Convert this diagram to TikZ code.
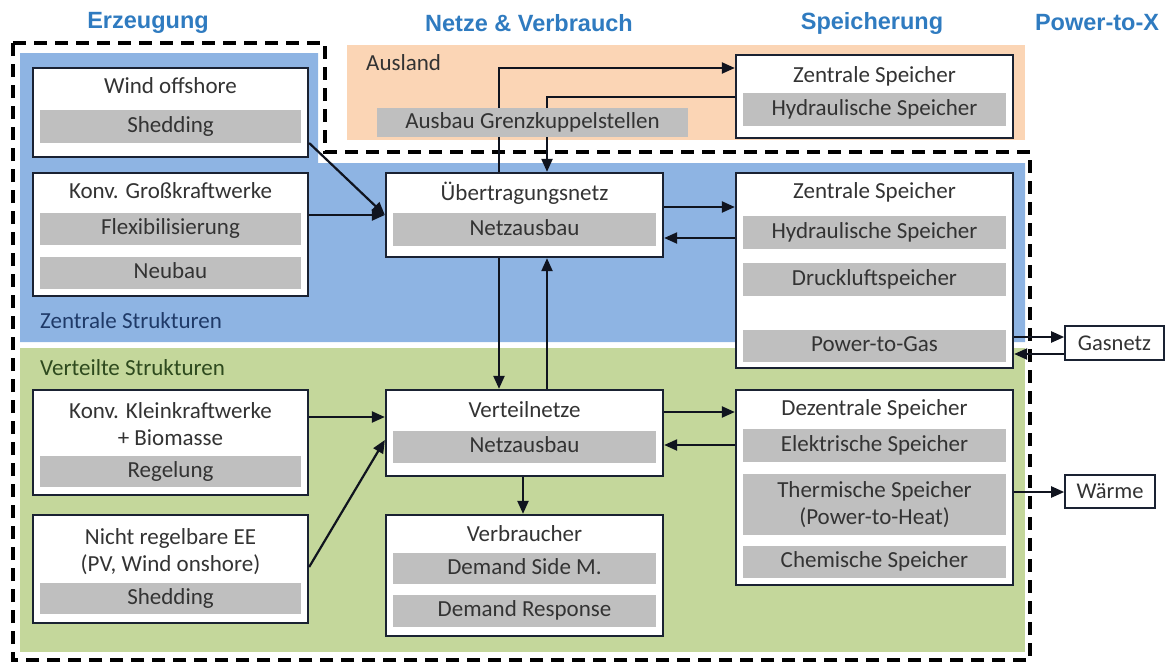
\documentclass[tikz,border=0pt]{standalone}
\usepackage{fontspec}
\setmainfont{Carlito}
\newfontfamily\hdfont{Liberation Sans}
\usetikzlibrary{arrows.meta}
\definecolor{zblue}{HTML}{8EB4E3}
\definecolor{vgreen}{HTML}{C4D79B}
\definecolor{ausl}{HTML}{FBD5B5}
\definecolor{barc}{HTML}{BFBFBF}
\definecolor{txt}{HTML}{333333}
\definecolor{boxc}{HTML}{1A2232}
\definecolor{arrc}{HTML}{10141F}
\definecolor{hdc}{HTML}{2F7BC0}
\definecolor{zlab}{HTML}{1F3A68}
\definecolor{vlab}{HTML}{2E4A1E}
\tikzset{
  box/.style={draw=boxc, line width=2.3pt, fill=white, inner sep=0pt},
  fnt/.style={font=\fontsize{23}{27}\selectfont},
  bar/.style={fnt, fill=barc, text=txt, inner sep=0pt, text height=15pt, text depth=4pt, align=center},
  bartwo/.style={fnt, fill=barc, text=txt, inner sep=0pt, align=center},
  ttl/.style={fnt, text=txt, inner sep=0pt, text height=15pt, text depth=4pt, align=center},
  ttltwo/.style={fnt, text=txt, inner sep=0pt, align=center},
  lab/.style={fnt, inner sep=0pt, anchor=west, text height=15pt, text depth=4pt},
  hdr/.style={text=hdc, inner sep=0pt, font=\hdfont\bfseries\fontsize{23.5}{27}\selectfont},
  arr/.style={draw=arrc, line width=2.2pt, -{Triangle[length=13pt,width=11pt]}},
  border/.style={draw=black, line width=3.5pt, dash pattern=on 13pt off 8pt}
}
\begin{document}
\begin{tikzpicture}[x=1pt,y=-1pt]
\useasboundingbox (0,0) rectangle (1169,664);
% regions
\fill[zblue] (20,53) -- (318,53) -- (318,163) -- (1025,163) -- (1025,342) -- (20,342) -- cycle;
\fill[vgreen] (20,348) rectangle (1025,652);
\fill[ausl] (347,45) rectangle (1025,140);
\draw[border] (13,43) -- (325,43) -- (325,152) -- (1030,152) -- (1030,660) -- (13,660) -- cycle;
% headers
\node[hdr] (hE) at (148,23) {Erzeugung};
\node[hdr] (hN) at (529,23) {Netze \& Verbrauch};
\node[hdr] (hS) at (872,23) {Speicherung};
\node[hdr] (hP) at (1097,23) {Power-to-X};
% region labels
\node[lab, text=txt] (lAus) at (366,65) {Ausland};
\node[lab, text=zlab] (lZen) at (40,323) {Zentrale Strukturen};
\node[lab, text=vlab] (lVer) at (40,370) {Verteilte Strukturen};
% boxes
\node[box, minimum width=275pt, minimum height=89pt] (wind) at (170.5,112.5) {};
\node[ttl] (windT) at (170.5,88) {Wind offshore};
\node[bar, minimum width=261pt, minimum height=33pt] (windB) at (170.5,126.5) {Shedding};

\node[box, minimum width=275pt, minimum height=123pt] (gross) at (170.5,234.5) {};
\node[ttl] (grossT) at (170.5,193) {Konv. Großkraftwerke};
\node[bar, minimum width=261pt, minimum height=32pt] (grossB1) at (170.5,229) {Flexibilisierung};
\node[bar, minimum width=261pt, minimum height=32pt] (grossB2) at (170.5,273) {Neubau};

\node[box, minimum width=275pt, minimum height=105pt] (klein) at (170.5,442.5) {};
\node[ttltwo] (kleinT) at (170.5,424) {Konv. Kleinkraftwerke\\+ Biomasse};
\node[bar, minimum width=261pt, minimum height=31pt] (kleinB) at (170.5,471.5) {Regelung};

\node[box, minimum width=275pt, minimum height=108pt] (ee) at (170.5,569) {};
\node[ttltwo] (eeT) at (170.5,551.5) {Nicht regelbare EE\\(PV, Wind onshore)};
\node[bar, minimum width=261pt, minimum height=31pt] (eeB) at (170.5,598.5) {Shedding};

\node[box, minimum width=277pt, minimum height=84pt] (uenetz) at (524.5,215) {};
\node[ttl] (uenetzT) at (524.5,195) {Übertragungsnetz};
\node[bar, minimum width=263pt, minimum height=33pt] (uenetzB) at (524.5,229.5) {Netzausbau};

\node[box, minimum width=277pt, minimum height=86pt] (vnetz) at (524.5,433) {};
\node[ttl] (vnetzT) at (524.5,412) {Verteilnetze};
\node[bar, minimum width=263pt, minimum height=32pt] (vnetzB) at (524.5,447) {Netzausbau};

\node[box, minimum width=277pt, minimum height=121pt] (verbr) at (524.5,575.5) {};
\node[ttl] (verbrT) at (524.5,536) {Verbraucher};
\node[bar, minimum width=263pt, minimum height=31pt] (verbrB1) at (524.5,568.5) {Demand Side M.};
\node[bar, minimum width=263pt, minimum height=32pt] (verbrB2) at (524.5,611) {Demand Response};

\node[box, minimum width=277pt, minimum height=83pt] (zsa) at (874.5,96.5) {};
\node[ttl] (zsaT) at (874.5,77) {Zentrale Speicher};
\node[bar, minimum width=263pt, minimum height=33pt] (zsaB) at (874.5,109.5) {Hydraulische Speicher};

\node[box, minimum width=277pt, minimum height=195pt] (zs) at (874.5,270.5) {};
\node[ttl] (zsT) at (874.5,193) {Zentrale Speicher};
\node[bar, minimum width=263pt, minimum height=33pt] (zsB1) at (874.5,232.5) {Hydraulische Speicher};
\node[bar, minimum width=263pt, minimum height=33pt] (zsB2) at (874.5,279.5) {Druckluftspeicher};
\node[bar, minimum width=263pt, minimum height=32pt] (zsB3) at (874.5,346) {Power-to-Gas};

\node[box, minimum width=277pt, minimum height=195pt] (dz) at (874.5,487.5) {};
\node[ttl] (dzT) at (874.5,410) {Dezentrale Speicher};
\node[bar, minimum width=263pt, minimum height=33pt] (dzB1) at (874.5,445.5) {Elektrische Speicher};
\node[bartwo, minimum width=263pt, minimum height=61pt] (dzB2) at (874.5,504.5) {Thermische Speicher\\(Power-to-Heat)};
\node[bar, minimum width=263pt, minimum height=32pt] (dzB3) at (874.5,562) {Chemische Speicher};

\node[box, line width=1.6pt, minimum width=99pt, minimum height=34pt, text=txt, font=\fontsize{22.5}{26}\selectfont] (gas) at (1114.5,343) {Gasnetz};
\node[box, line width=1.6pt, minimum width=90pt, minimum height=33pt, text=txt, font=\fontsize{22.5}{26}\selectfont] (waerme) at (1110,491.5) {Wärme};
% connectors
\draw[arr] (wind.east |- 0,143) -- (uenetz.west |- 0,215);
\draw[arr] (gross.east |- 0,215) -- (uenetz.west |- 0,215);
\draw[arr] (499,0 |- uenetz.north) |- (zsa.west |- 0,68);
\draw[arr] (zsa.west |- 0,97) -| (547,0 |- uenetz.north);
\draw[arr] (uenetz.east |- 0,207) -- (zs.west |- 0,207);
\draw[arr] (zs.west |- 0,238) -- (uenetz.east |- 0,238);
\draw[arr] (499,0 |- uenetz.south) -- (499,0 |- vnetz.north);
\draw[arr] (547,0 |- vnetz.north) -- (547,0 |- uenetz.south);
\draw[arr] (klein.east |- 0,417) -- (vnetz.west |- 0,417);
\draw[arr] (ee.east |- 0,567) -- (vnetz.west |- 0,440);
\draw[arr] (vnetz.east |- 0,412) -- (dz.west |- 0,412);
\draw[arr] (dz.west |- 0,445) -- (vnetz.east |- 0,445);
\draw[arr] (523,0 |- vnetz.south) -- (523,0 |- verbr.north);
\draw[arr] (zs.east |- 0,337) -- (gas.west |- 0,337);
\draw[arr] (gas.west |- 0,354) -- (zs.east |- 0,354);
\draw[arr] (dz.east |- 0,492) -- (waerme.west |- 0,492);
% bar in Ausland, drawn over the connectors
\node[bar, minimum width=311pt, minimum height=29pt] (grenz) at (532.5,122.5) {Ausbau Grenzkuppelstellen};
\end{tikzpicture}
\end{document}
